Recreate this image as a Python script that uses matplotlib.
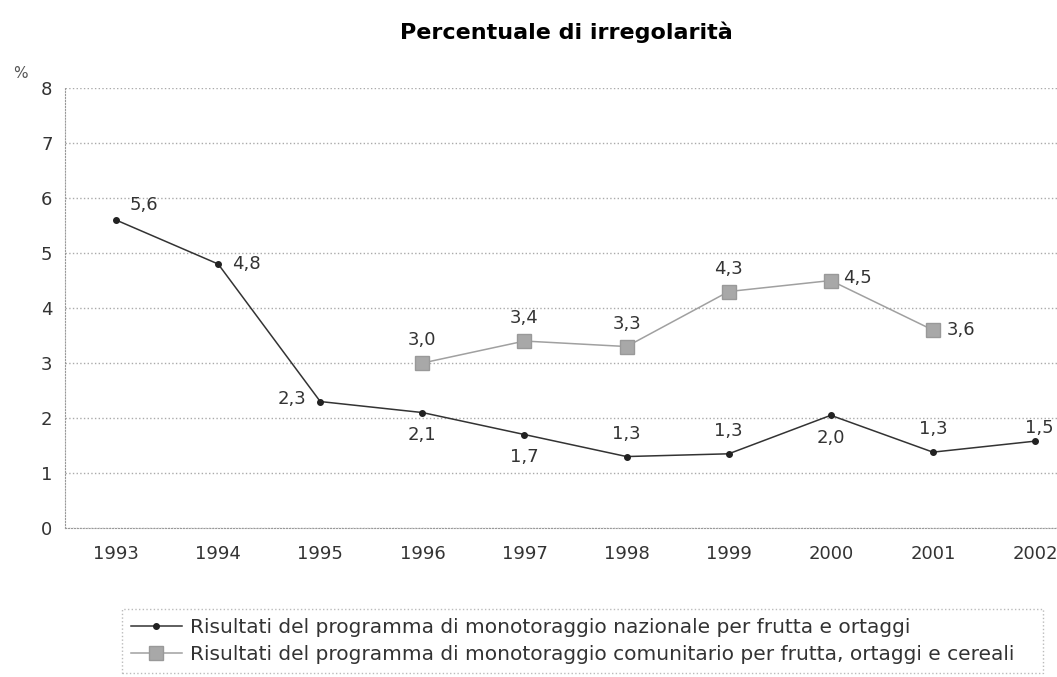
import numpy as np
import matplotlib
matplotlib.use("Agg")
import matplotlib.pyplot as plt

years = ["1993", "1994", "1995", "1996", "1997", "1998", "1999", "2000", "2001", "2002"]
nazionale = [5.6, 4.8, 2.3, 2.1, 1.7, 1.3, 1.35, 2.05, 1.38, 1.58]
naz_labels = ["5,6", "4,8", "2,3", "2,1", "1,7", "1,3", "1,3", "2,0", "1,3", "1,5"]
comunitario = [np.nan, np.nan, np.nan, 3.0, 3.4, 3.3, 4.3, 4.5, 3.6, np.nan]
com_labels = ["", "", "", "3,0", "3,4", "3,3", "4,3", "4,5", "3,6", ""]

plt.rcParams['font.family'] = ['DejaVu Sans']

fig = plt.figure(figsize=(10.57, 6.77), dpi=100)
ax = fig.add_axes([0.0615, 0.22, 0.966, 0.65])

x = np.arange(len(years))
ax.plot(x, nazionale, color="#333333", lw=1.1, marker="o", ms=4, mfc="#222222", mec="#222222",
        label="Risultati del programma di monotoraggio nazionale per frutta e ortaggi")
ax.plot(x, comunitario, color="#a0a0a0", lw=1.1, marker="s", ms=10, mfc="#a8a8a8", mec="#999999",
        label="Risultati del programma di monotoraggio comunitario per frutta, ortaggi e cereali")

# label offsets in points (dx, dy) and alignment
naz_off = [(10, 4, "left", "bottom"), (10, 0, "left", "center"), (-10, 2, "right", "center"),
           (0, -10, "center", "top"), (0, -10, "center", "top"), (0, 10, "center", "bottom"),
           (0, 10, "center", "bottom"), (0, -10, "center", "top"), (0, 10, "center", "bottom"),
           (3, 3, "center", "bottom")]
for i, (v, t) in enumerate(zip(nazionale, naz_labels)):
    dx, dy, ha, va = naz_off[i]
    ax.annotate(t, (x[i], v), xytext=(dx, dy), textcoords="offset points",
                ha=ha, va=va, fontsize=13, color="#333333")

com_off = {3: (0, 10, "center", "bottom"), 4: (0, 10, "center", "bottom"), 5: (0, 10, "center", "bottom"),
           6: (0, 10, "center", "bottom"), 7: (9, 2, "left", "center"), 8: (10, 0, "left", "center")}
for i, t in enumerate(com_labels):
    if not t:
        continue
    dx, dy, ha, va = com_off[i]
    ax.annotate(t, (x[i], comunitario[i]), xytext=(dx, dy), textcoords="offset points",
                ha=ha, va=va, fontsize=13, color="#333333")

ax.set_xlim(-0.5, 9.5)
ax.set_ylim(0, 8)
ax.set_xticks(x)
ax.set_xticklabels(years)
ax.set_yticks(range(0, 9))
ax.tick_params(length=0, labelsize=13, labelcolor="#333333")
ax.tick_params(axis="x", pad=12)
ax.tick_params(axis="y", pad=9)
ax.grid(axis="y", color="#aaaaaa", ls=":", lw=1)
for s in ["top", "right"]:
    ax.spines[s].set_visible(False)
for s in ["left", "bottom"]:
    ax.spines[s].set_color("#999999")
    ax.spines[s].set_linestyle(":")
ax.set_axisbelow(True)

fig.text(0.536, 0.952, "Percentuale di irregolarità", ha="center", va="center",
         fontsize=16, fontweight="bold")
fig.text(0.012, 0.885, "%", fontsize=11, color="#555555")

leg = fig.legend(loc="upper left", bbox_to_anchor=(0.106, 0.115, 0.89, 0.0), mode="expand",
                 fontsize=14.5, frameon=True, handlelength=2.5, handletextpad=0.4, borderpad=0.45,
                 labelspacing=0.4, fancybox=False, labelcolor="#333333")
leg.get_frame().set_edgecolor("#aaaaaa")
leg.get_frame().set_linestyle(":")
leg.get_frame().set_linewidth(1)

fig.savefig("out.png", dpi=100)
